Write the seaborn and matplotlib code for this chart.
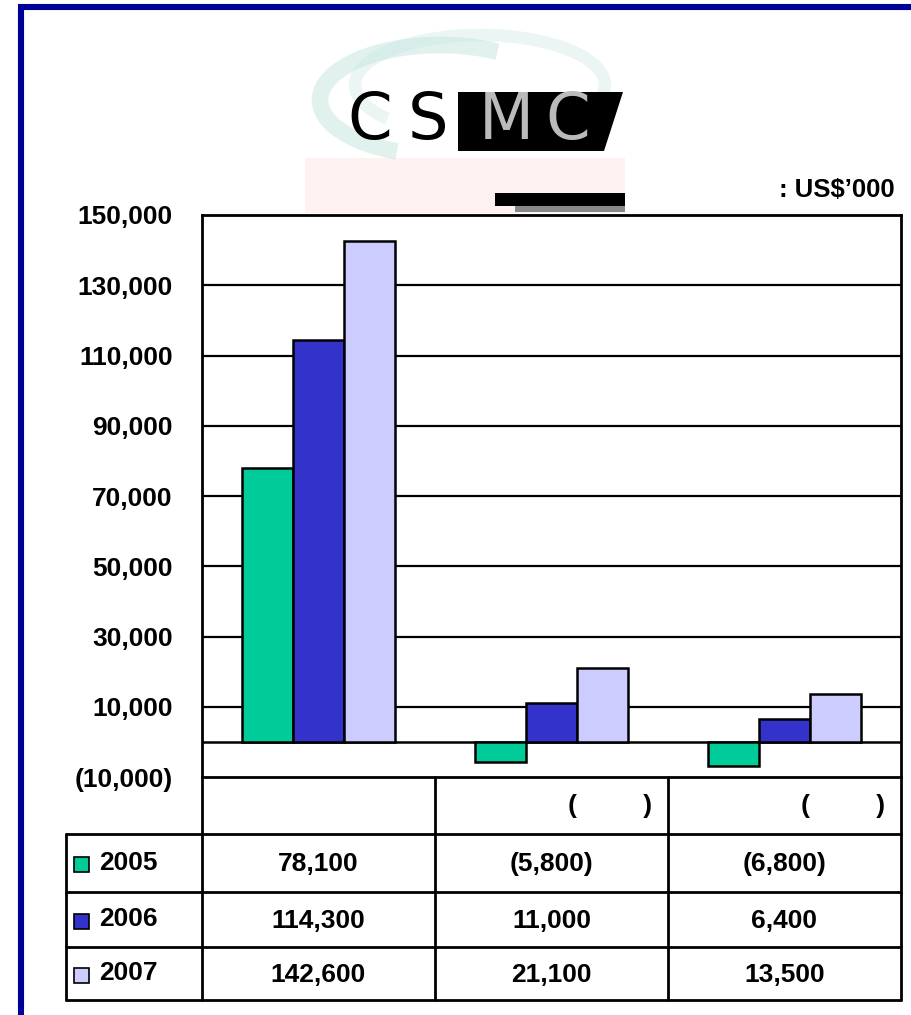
import numpy as np
import pandas as pd
import matplotlib
matplotlib.use("Agg")
import matplotlib.pyplot as plt
from matplotlib.patches import Polygon, Rectangle, Arc
import seaborn as sns

# chart values (US$'000)
categories = ["revenue", "operating", "net"]
years = ["2005", "2006", "2007"]
values_2005 = [78100, -5800, -6800]
values_2006 = [114300, 11000, 6400]
values_2007 = [142600, 21100, 13500]
header_labels = ["", "(         )", "(         )"]
unit_label = ": US$\u2019000"
year_colors = ["#00CC99", "#3333CC", "#CCCCFF"]
yticks = list(range(-10000, 150001, 20000))

sns.set_theme(style="white")
plt.rcParams["font.family"] = ["Liberation Sans", "DejaVu Sans"]
plt.rcParams["font.weight"] = "bold"
plt.rcParams["text.color"] = "black"
plt.rcParams["ytick.color"] = "black"
plt.rcParams["ytick.labelcolor"] = "black"

df = pd.DataFrame({
    "category": categories * 3,
    "year": [y for y in years for _ in categories],
    "value": values_2005 + values_2006 + values_2007,
})


def fmt(v):
    return f"({abs(v):,})" if v < 0 else f"{v:,}"


W, H = 911, 1015
fig = plt.figure(figsize=(W / 100, H / 100), dpi=100)
fig.patch.set_facecolor("white")

# main plot area in pixel layout
x0, x1, ytop, ybot = 202, 901, 215, 777
ax = fig.add_axes([x0 / W, 1 - ybot / H, (x1 - x0) / W, (ybot - ytop) / H])
ax.set_axisbelow(True)
sns.barplot(data=df, x="category", y="value", hue="year", palette=year_colors,
            width=0.66, gap=0, edgecolor="black", linewidth=1.8, legend=False,
            errorbar=None, ax=ax, saturation=1)
ax.set_ylim(-10000, 150000)
ax.set_xlim(-0.5, 2.5)
ax.set_yticks(yticks)
ax.set_yticklabels([fmt(t) for t in yticks], fontsize=19, fontweight="bold", color="black")
ax.set_xticks([])
ax.set_xlabel("")
ax.set_ylabel("")
ax.tick_params(axis="y", length=0, pad=21)
for t in yticks[1:]:
    ax.axhline(t, color="black", lw=1.6, zorder=0)
ax.axhline(0, color="black", lw=1.8, zorder=0)
for s in ax.spines.values():
    s.set_color("black")
    s.set_linewidth(2)
    s.set_visible(True)

# overlay in pixel coordinates: table, logo, border
ov = fig.add_axes([0, 0, 1, 1], zorder=5)
ov.set_xlim(0, W)
ov.set_ylim(H, 0)
ov.axis("off")
ov.patch.set_alpha(0)

lw = 2
col_x = [66, 202, 435, 668, 901]
row_y = [777, 834, 892, 947, 1000]
for y in row_y[1:]:
    ov.plot([col_x[0], col_x[-1]], [y, y], color="black", lw=lw)
ov.plot([col_x[0], col_x[0]], [row_y[1], row_y[-1]], color="black", lw=lw)
for x in col_x[1:]:
    ov.plot([x, x], [row_y[0], row_y[-1]], color="black", lw=lw)

for j, lab in enumerate(header_labels):
    ov.text(col_x[j + 2] - 16, (row_y[0] + row_y[1]) / 2, lab, ha="right",
            va="center", fontsize=19, fontweight="bold", color="black")

series = [values_2005, values_2006, values_2007]
for i, (yr, vals, c) in enumerate(zip(years, series, year_colors)):
    cy = (row_y[i + 1] + row_y[i + 2]) / 2
    ov.add_patch(Rectangle((74, cy - 6), 15, 15, facecolor=c, edgecolor="black", lw=1.2))
    ov.text(99, cy, yr, ha="left", va="center", fontsize=19, fontweight="bold", color="black")
    for j, v in enumerate(vals):
        cx = (col_x[j + 1] + col_x[j + 2]) / 2
        ov.text(cx, cy + 1, fmt(v), ha="center", va="center", fontsize=19,
                fontweight="bold", color="black")

ov.text(895, 190, unit_label, ha="right", va="center", fontsize=18.5,
        fontweight="bold", color="black")

# logo
ov.add_patch(Rectangle((305, 158), 320, 55, facecolor="#FDF1F1", edgecolor="none"))
ov.add_patch(Arc((440, 100), 240, 110, theta1=130, theta2=320, color="#A8D8D0", lw=12, alpha=0.35))
ov.add_patch(Arc((480, 85), 250, 100, theta1=160, theta2=30, color="#C8E6E2", lw=9, alpha=0.35))
ov.add_patch(Polygon([(458, 92), (623, 92), (604, 151), (458, 151)], closed=True,
                     facecolor="black", edgecolor="none"))
for ch, cx, col in zip("CSMC", [370, 428, 506, 568], ["black", "black", "#BBBBBB", "#BBBBBB"]):
    ov.text(cx, 121, ch, ha="center", va="center", fontsize=46, color=col,
            family="DejaVu Sans", fontweight="normal")
ov.add_patch(Rectangle((495, 193), 130, 13, facecolor="black", edgecolor="none"))
ov.add_patch(Rectangle((515, 206), 110, 6, facecolor="#888888", edgecolor="none"))

# slide frame
ov.plot([21, 21, W], [H, 7, 7], color="#000099", lw=4.4, solid_joinstyle="miter")

fig.savefig("out.png", dpi=100)
